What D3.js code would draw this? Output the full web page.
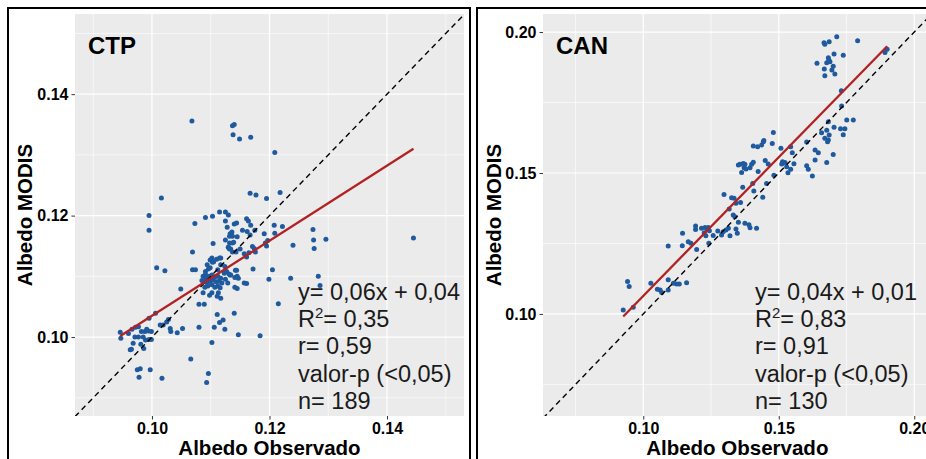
<!DOCTYPE html>
<html><head><meta charset="utf-8">
<script src="https://cdn.jsdelivr.net/npm/d3@7"></script>
<style>
body{margin:0;background:#fff;}
svg{display:block;font-family:"Liberation Sans",Arial,sans-serif;}
</style></head><body>
<svg id="chart" width="926" height="459"></svg>
<script>
// ---------- data ----------
const ctpObs = [0.1068,0.1137,0.1140,0.1138,0.1149,0.1168,0.1209,0.1016,0.1167,0.1177,0.1195,0.0995,0.0995,
0.1218,0.1208,0.1222,0.1209,0.1274,0.1275,0.1296,0.1276,0.1240,0.1445,0.1205,0.1236,0.1283,0.1286,0.1215,
0.1073,0.1091,0.1103,0.1115,0.1125,0.1130,0.1125,0.1140,0.1144,0.1128,0.1136,0.1161,0.1164,0.1168,0.1154,0.1162,0.1175,0.1191,
0.1132,0.1125,0.1145,0.1137,0.1104,0.1167,0.1130,0.1132,0.1150,0.1171,0.1174,0.1195,0.1193,0.1197,0.1069,0.1102,0.1115,
0.1157,0.1165,0.1176,0.1103,0.1137,0.1008,0.1022,0.1069,0.1074,0.1096,0.1091,0.1117,0.1123,0.1131,0.1142,0.1145,0.1172,
0.1087,0.1092,0.1097,0.1102,0.1107,0.1112,0.1117,0.1089,0.1094,0.1099,0.1104,0.1109,0.1114,0.1119,0.1095,0.1102,0.1107,0.1112,0.1090,0.1116,
0.1125,0.1129,0.1134,0.1147,0.1141,0.1145,0.1157,0.1161,0.1199,0.1049,0.1087,0.1102,0.1098,0.1113,0.1111,0.1117,0.1080,0.1089,
0.1111,0.1115,0.1121,0.1140,0.1006,0.0995,0.1014,0.1019,0.1028,0.1025,0.1031,0.1032,0.1043,0.1052,0.1080,0.1106,0.1124,0.1147,0.1184,0.1102,
0.0946,0.0947,0.0960,0.0966,0.0972,0.0977,0.0982,0.0988,0.0994,0.0999,0.0991,0.0971,0.0977,0.0985,0.0989,0.0995,0.0999,
0.0968,0.0981,0.0986,0.0963,0.0965,0.0975,0.0980,0.0978,0.0997,0.1017,0.1066,0.1096,0.1093,
0.1133,0.1137,0.1132,0.1139,0.1130,0.1134,0.1143,0.1161,0.1099,0.1105,0.1110,0.1117,0.1094,0.1091,0.1099,0.1112,0.1124,0.1127,0.1133,0.1141,0.1144,0.1085,0.1091];
const ctpMod = [0.1356,0.1348,0.1350,0.1333,0.1326,0.1329,0.1304,0.1229,0.1237,0.1234,0.1228,0.1200,0.1176,
0.1238,0.1184,0.1182,0.1171,0.1177,0.1160,0.1161,0.1146,0.1151,0.1163,0.1111,0.1097,0.1100,0.1085,0.1055,
0.1187,0.1197,0.1199,0.1206,0.1206,0.1201,0.1191,0.1186,0.1188,0.1181,0.1173,0.1195,0.1191,0.1184,0.1176,0.1174,0.1176,0.1170,
0.1166,0.1160,0.1165,0.1155,0.1154,0.1168,0.1148,0.1145,0.1145,0.1149,0.1146,0.1150,0.1155,0.1159,0.1140,0.1130,0.1130,
0.1137,0.1139,0.1140,0.1123,0.1140,0.1114,0.1109,0.1111,0.1111,0.1112,0.1103,0.1119,0.1105,0.1104,0.1110,0.1100,0.1112,
0.1100,0.1097,0.1100,0.1102,0.1099,0.1100,0.1097,0.1092,0.1089,0.1092,0.1094,0.1091,0.1092,0.1089,0.1084,0.1086,0.1082,0.1084,0.1082,0.1081,
0.1095,0.1089,0.1102,0.1097,0.1082,0.1080,0.1089,0.1088,0.1095,0.1079,0.1073,0.1073,0.1069,0.1073,0.1067,0.1064,0.1054,0.1054,
0.1037,0.1024,0.1028,0.1039,0.1039,0.1031,0.1020,0.1020,0.1029,0.1025,0.1014,0.1009,0.1007,0.1014,0.1016,0.1016,0.1013,0.1004,0.1002,0.0991,
0.1008,0.0998,0.1006,0.1013,0.1016,0.1017,0.1009,0.1009,0.1010,0.1009,0.1013,0.1000,0.1000,0.1000,0.0995,0.0996,0.0996,
0.0990,0.0988,0.0981,0.0979,0.0980,0.0946,0.0948,0.0934,0.0946,0.0932,0.0964,0.0940,0.0925,
0.1170,0.1166,0.1155,0.1156,0.1148,0.1145,0.1140,0.1132,0.1127,0.1124,0.1128,0.1130,0.1119,0.1108,0.1114,0.1111,0.1116,0.1108,0.1102,0.1098,0.1110,0.1093,0.1095];

const canObs = [0.1670,0.1667,0.1686,0.1714,0.1791,0.1704,0.1738,0.1683,0.1677,0.1689,0.1685,0.1641,0.1701,0.1668,0.1696,0.1670,0.1707,
0.1892,0.1900,0.1731,0.1732,0.1751,0.1775,0.1683,0.1704,0.1728,0.1744,0.1677,0.1658,0.1686,0.1738,0.1670,0.1680,0.1683,0.1603,
0.1544,0.1634,0.1646,0.1701,0.1634,0.1677,0.1603,0.1609,0.1624,0.1550,0.1556,0.1508,0.1480,0.1476,0.1443,0.1437,0.1445,
0.1450,0.1461,0.1514,0.1523,0.1511,0.1529,0.1534,0.1482,0.1455,0.1441,0.1406,0.1422,0.1544,
0.1351,0.1357,0.1369,0.1375,0.1372,0.1379,0.1363,0.1400,0.1406,0.1394,0.1424,0.1404,0.1408,0.1367,0.1298,0.1326,0.1335,0.1342,0.1359,
0.1317,0.1332,0.1338,0.1351,0.1375,0.1390,0.1418,0.1394,0.1305,0.1314,0.1295,0.1289,0.1342,0.1347,0.1320,0.1275,0.1258,
0.1193,0.1193,0.1215,0.1228,0.1236,0.1225,0.1231,0.1244,0.1240,0.1145,0.1166,0.1176,0.1144,0.1197,0.1242,0.1092,
0.0942,0.0948,0.0963,0.0926,0.1028,0.1052,0.1062,0.1068,0.1092,0.1092,0.1111,0.1123,0.1133,0.1160];
const canMod = [0.1957,0.1962,0.1966,0.1983,0.1969,0.1922,0.1918,0.1909,0.1891,0.1895,0.1901,0.1889,0.1879,0.1869,0.1865,0.1845,0.1851,
0.1927,0.1939,0.1792,0.1738,0.1688,0.1688,0.1682,0.1662,0.1657,0.1657,0.1652,0.1643,0.1635,0.1636,0.1623,0.1611,0.1617,0.1610,
0.1593,0.1582,0.1572,0.1566,0.1546,0.1537,0.1526,0.1513,0.1489,0.1572,0.1533,0.1588,0.1644,0.1605,0.1611,0.1599,0.1615,
0.1544,0.1532,0.1540,0.1537,0.1532,0.1522,0.1501,0.1492,0.1463,0.1414,0.1596,0.1593,0.1513,
0.1528,0.1531,0.1534,0.1531,0.1519,0.1514,0.1502,0.1531,0.1538,0.1519,0.1505,0.1463,0.1436,0.1449,0.1424,0.1412,0.1410,0.1393,0.1395,
0.1372,0.1351,0.1345,0.1325,0.1322,0.1316,0.1304,0.1306,0.1298,0.1304,0.1292,0.1280,0.1301,0.1286,0.1277,0.1294,0.1278,
0.1312,0.1300,0.1304,0.1307,0.1300,0.1288,0.1277,0.1295,0.1307,0.1286,0.1256,0.1251,0.1242,0.1229,0.1251,0.1241,
0.1115,0.1097,0.1024,0.1014,0.1109,0.1088,0.1085,0.1076,0.1085,0.1121,0.1109,0.1106,0.1106,0.1111];

const ctpTicks = [0.10, 0.12, 0.14];
const ctpMinor = [0.09, 0.11, 0.13, 0.15];
const canTicks = [0.10, 0.15, 0.20];
const canMinor = [0.075, 0.125, 0.175];
const ctpFit = [0.618, 0.0417];   // slope, intercept
const canFit = [0.984, 0.0080];
const ctpStats = ["y= 0,06x + 0,04", "R2= 0,35", "r= 0,59", "valor-p (<0,05)", "n= 189"];
const canStats = ["y= 0,04x + 0,01", "R2= 0,83", "r= 0,91", "valor-p (<0,05)", "n= 130"];
const xTitle = "Albedo Observado";
const yTitle = "Albedo MODIS";

// ---------- drawing ----------
const svg = d3.select("#chart");
const defs = svg.append("defs");

function panel(cfg){
  const {id, box, plot, dom, ticks, minor, xs, ys, fit, stats, label, statsX, ylabX} = cfg;
  const x = d3.scaleLinear().domain(dom.x).range([plot.x0, plot.x1]);
  const y = d3.scaleLinear().domain(dom.y).range([plot.y1, plot.y0]);
  const g = svg.append("g");
  g.append("rect").attr("x", box.x).attr("y", box.y).attr("width", box.w).attr("height", box.h)
    .attr("fill","#fff").attr("stroke","#000").attr("stroke-width",2);
  defs.append("clipPath").attr("id","clip"+id).append("rect")
    .attr("x",plot.x0).attr("y",plot.y0).attr("width",plot.x1-plot.x0).attr("height",plot.y1-plot.y0);
  g.append("rect").attr("x",plot.x0).attr("y",plot.y0).attr("width",plot.x1-plot.x0).attr("height",plot.y1-plot.y0)
    .attr("fill","#EBEBEB");
  const pg = g.append("g").attr("clip-path","url(#clip"+id+")");
  pg.selectAll(".mvx").data(minor).join("line").attr("x1",d=>x(d)).attr("x2",d=>x(d)).attr("y1",plot.y0).attr("y2",plot.y1)
    .attr("stroke","#fff").attr("stroke-width",0.6);
  pg.selectAll(".mhy").data(minor).join("line").attr("y1",d=>y(d)).attr("y2",d=>y(d)).attr("x1",plot.x0).attr("x2",plot.x1)
    .attr("stroke","#fff").attr("stroke-width",0.6);
  pg.selectAll(".gvx").data(ticks).join("line").attr("x1",d=>x(d)).attr("x2",d=>x(d)).attr("y1",plot.y0).attr("y2",plot.y1)
    .attr("stroke","#fff").attr("stroke-width",1.2);
  pg.selectAll(".ghy").data(ticks).join("line").attr("y1",d=>y(d)).attr("y2",d=>y(d)).attr("x1",plot.x0).attr("x2",plot.x1)
    .attr("stroke","#fff").attr("stroke-width",1.2);
  const pts = xs.map((v,i)=>[v, ys[i]]);
  pg.selectAll(".pt").data(pts).join("circle")
    .attr("cx", d=>x(d[0])).attr("cy", d=>y(d[1])).attr("r", 2.5)
    .attr("fill","#1F5A9E");
  const lo = Math.min(dom.x[0], dom.y[0]), hi = Math.max(dom.x[1], dom.y[1]);
  pg.append("line").attr("x1",x(lo)).attr("y1",y(lo)).attr("x2",x(hi)).attr("y2",y(hi))
    .attr("stroke","#000").attr("stroke-width",1.4).attr("stroke-dasharray","5.5,4");
  const ex = d3.extent(xs);
  pg.append("line").attr("x1",x(ex[0])).attr("y1",y(fit[0]*ex[0]+fit[1]))
    .attr("x2",x(ex[1])).attr("y2",y(fit[0]*ex[1]+fit[1]))
    .attr("stroke","#B22222").attr("stroke-width",2.3);
  const xa = g.append("g").attr("transform",`translate(0,${plot.y1})`)
    .call(d3.axisBottom(x).tickValues(ticks).tickFormat(d3.format(".2f")).tickSize(3.5).tickPadding(1));
  const ya = g.append("g").attr("transform",`translate(${plot.x0},0)`)
    .call(d3.axisLeft(y).tickValues(ticks).tickFormat(d3.format(".2f")).tickSize(3.5).tickPadding(3));
  [xa,ya].forEach(a=>{
    a.select(".domain").remove();
    a.selectAll(".tick line").attr("stroke","#333").attr("stroke-width",1);
    a.selectAll(".tick text").attr("fill","#000").attr("font-size",null).style("font-size","16px").style("font-weight","bold")
      .style("font-family",'"Liberation Sans",Arial,sans-serif');
  });
  xa.selectAll(".tick text").attr("dy","0.86em");
  g.append("text").attr("x",(plot.x0+plot.x1)/2).attr("y",455).attr("text-anchor","middle")
    .style("font-size","20.5px").style("font-weight","bold").text(xTitle);
  g.append("text").attr("transform",`translate(${ylabX},${(plot.y0+plot.y1)/2}) rotate(-90)`)
    .attr("text-anchor","middle").style("font-size","20.5px").style("font-weight","bold").text(yTitle);
  g.append("text").attr("x",plot.x0+13).attr("y",54).style("font-size","24px").style("font-weight","bold").text(label);
  stats.forEach((s,i)=>{
    const t = g.append("text").attr("x",statsX).attr("y",300+i*27.2).style("font-size","23.5px").attr("fill","#1a1a1a");
    if (s.startsWith("R2")) {
      t.append("tspan").text("R");
      t.append("tspan").text("2").attr("dy",-9).style("font-size","15px");
      t.append("tspan").text(s.slice(2)).attr("dy",9);
    } else t.text(s);
  });
}

panel({id:"L", box:{x:8,y:8,w:462,h:470}, plot:{x0:75,x1:464,y0:14,y1:416},
  dom:{x:[0.0869,0.1531], y:[0.0870,0.1532]}, ticks:ctpTicks, minor:ctpMinor,
  xs:ctpObs, ys:ctpMod, fit:ctpFit, stats:ctpStats, label:"CTP", statsX:298, ylabX:32});
panel({id:"R", box:{x:477,y:8,w:470,h:470}, plot:{x0:543,x1:931.6,y0:14,y1:416},
  dom:{x:[0.063,0.2064], y:[0.0638,0.2064]}, ticks:canTicks, minor:canMinor,
  xs:canObs, ys:canMod, fit:canFit, stats:canStats, label:"CAN", statsX:755, ylabX:501});
</script>
</body></html>
